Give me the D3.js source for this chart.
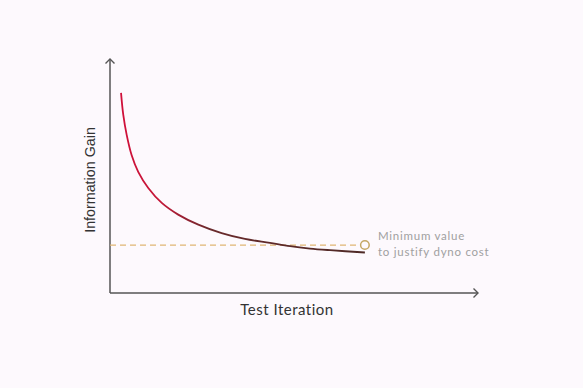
<!DOCTYPE html>
<html><head><meta charset="utf-8">
<script src="https://cdn.jsdelivr.net/npm/d3@7"></script>
<style>html,body{margin:0;padding:0;background:#fdf9fd;}svg{display:block;}</style>
</head><body>
<script>
// Data
const iterations = [0.45, 0.54, 0.68, 0.88, 1.15, 1.56, 2.11, 2.78, 3.60, 4.55, 5.50, 6.52, 7.34, 8.15, 8.97, 10.39];
const gain       = [8.55, 7.62, 6.76, 5.90, 5.18, 4.49, 3.85, 3.35, 2.92, 2.56, 2.31, 2.14, 2.00, 1.90, 1.83, 1.73];
const threshold = 2.05;
const labelLines = ["Minimum value", "to justify dyno cost"];
const xTitle = "Test Iteration", yTitle = "Information Gain";

const W = 583, H = 388;
const svg = d3.select("body").append("svg").attr("width", W).attr("height", H);
svg.append("rect").attr("width", W).attr("height", H).attr("fill", "#fdf9fd");

const x = d3.scaleLinear().domain([0, 15]).range([110, 478]);
const y = d3.scaleLinear().domain([0, 10]).range([293, 59]);

const defs = svg.append("defs");
const grad = defs.append("linearGradient").attr("id", "g").attr("gradientUnits", "userSpaceOnUse")
  .attr("x1", x(iterations[0])).attr("x2", x(iterations[iterations.length - 1])).attr("y1", 0).attr("y2", 0);
grad.append("stop").attr("offset", "0%").attr("stop-color", "#d0103a");
grad.append("stop").attr("offset", "16%").attr("stop-color", "#c41838");
grad.append("stop").attr("offset", "36%").attr("stop-color", "#6a2a2c");
grad.append("stop").attr("offset", "100%").attr("stop-color", "#4e2a26");

// Axes
const axisCol = "#555";
svg.append("line").attr("x1", x(0)).attr("x2", x(15)).attr("y1", y(0)).attr("y2", y(0))
  .attr("stroke", axisCol).attr("stroke-width", 1.5);
svg.append("line").attr("x1", x(0)).attr("x2", x(0)).attr("y1", y(0)).attr("y2", y(10))
  .attr("stroke", axisCol).attr("stroke-width", 1.5);
// arrowheads
svg.append("path").attr("d", `M${x(15) - 4.5},${y(0) - 4.5}L${x(15)},${y(0)}L${x(15) - 4.5},${y(0) + 4.5}`)
  .attr("fill", "none").attr("stroke", axisCol).attr("stroke-width", 1.4);
svg.append("path").attr("d", `M${x(0) - 4.5},${y(10) + 4.5}L${x(0)},${y(10)}L${x(0) + 4.5},${y(10) + 4.5}`)
  .attr("fill", "none").attr("stroke", axisCol).attr("stroke-width", 1.4);

// threshold dashed line
const lastX = iterations[iterations.length - 1];
svg.append("line").attr("x1", x(0)).attr("x2", x(lastX) - 5).attr("y1", y(threshold)).attr("y2", y(threshold))
  .attr("stroke", "#dfb674").attr("stroke-width", 1.3).attr("stroke-dasharray", "6,4");

// curve
const pts = iterations.map((d, i) => [d, gain[i]]);
const line = d3.line().x(d => x(d[0])).y(d => y(d[1])).curve(d3.curveCatmullRom.alpha(0.5));
svg.append("path").attr("d", line(pts)).attr("fill", "none").attr("stroke", "url(#g)").attr("stroke-width", 1.8);

// circle marker
svg.append("circle").attr("cx", x(lastX)).attr("cy", y(threshold)).attr("r", 4.3)
  .attr("fill", "#fdf9fd").attr("stroke", "#c4a764").attr("stroke-width", 1.5);

// label
svg.append("g").selectAll("text").data(labelLines).join("text")
  .attr("x", 378).attr("y", (d, i) => 240 + i * 16)
  .attr("font-family", "Lato, sans-serif").attr("font-size", 11.5).attr("fill", "#a0a0a0")
  .attr("letter-spacing", 0.75).text(d => d);

// axis titles
svg.append("text").attr("x", 287).attr("y", 315).attr("text-anchor", "middle")
  .attr("font-family", "Lato, sans-serif").attr("font-size", 15).attr("fill", "#333")
  .attr("letter-spacing", 0.5).text(xTitle);
svg.append("text").attr("transform", "translate(94.5,180) rotate(-90)").attr("text-anchor", "middle")
  .attr("font-family", "Liberation Sans, Arial, sans-serif").attr("font-size", 14.3).attr("fill", "#333")
  .text(yTitle);
</script>
</body></html>
